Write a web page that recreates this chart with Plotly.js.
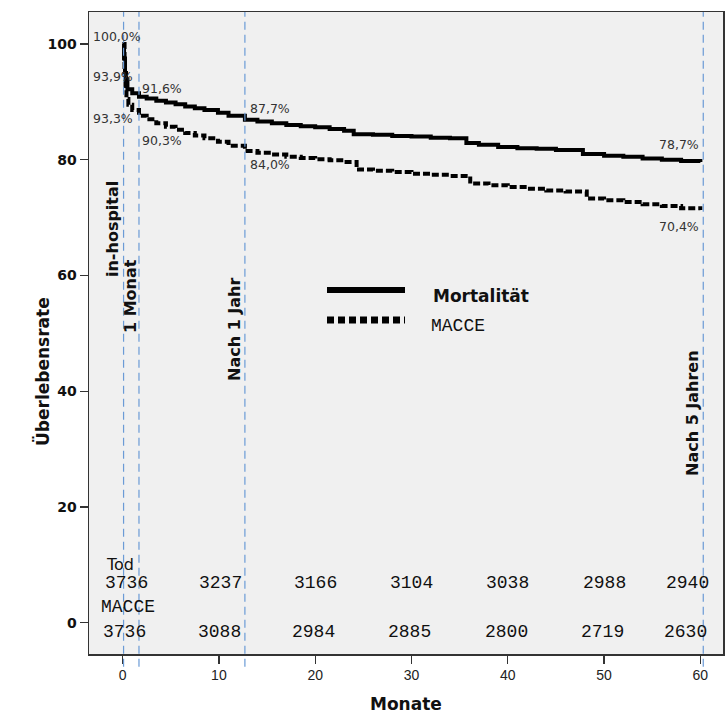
<!DOCTYPE html>
<html>
<head>
<meta charset="utf-8">
<script src="https://cdn.plot.ly/plotly-3.0.1.min.js"></script>
<style>html,body{margin:0;padding:0;background:#fff}#chart{width:725px;height:722px}</style>
</head>
<body>
<div id="chart"></div>
<script>
// ---- data ----
const mortMonths = [0, 0.15, 0.25, 0.35, 0.5, 1, 1.7, 2.5, 3.5, 4.5, 5.5, 6.5, 7.5, 8.5, 9.9, 11, 12.7, 14, 15.5, 17, 18.5, 20, 21.5, 23, 24, 26, 28, 30, 32, 34, 35.7, 37, 39, 41, 43, 45, 47.8, 50, 52, 54, 56, 58, 60];
const mortValues = [100, 97.5, 95, 93.9, 92.2, 91.5, 90.9, 90.6, 90.2, 89.9, 89.6, 89.2, 88.9, 88.6, 88.1, 87.6, 86.9, 86.6, 86.3, 86.0, 85.8, 85.6, 85.3, 85.0, 84.4, 84.3, 84.1, 84.0, 83.8, 83.7, 82.9, 82.6, 82.2, 82.0, 81.9, 81.7, 81.0, 80.7, 80.5, 80.2, 80.0, 79.8, 79.6];
const macceMonths = [0, 0.2, 0.3, 0.4, 0.6, 1, 1.7, 2.5, 3.5, 4.5, 5.5, 6.5, 7.5, 8.5, 9.9, 11, 12.7, 14, 15.5, 17, 18.5, 20, 21.5, 23, 24.3, 26, 28, 30, 32, 34, 36.1, 38, 40, 42, 44, 46, 48.2, 50, 52, 54, 56, 58, 60];
const macceValues = [100, 95, 92, 90.5, 89.5, 88.6, 87.6, 87.0, 86.3, 85.7, 85.2, 84.6, 84.2, 83.7, 83.1, 82.4, 81.5, 81.2, 80.9, 80.5, 80.3, 80.1, 79.9, 79.6, 78.3, 78.1, 77.9, 77.6, 77.4, 77.2, 75.9, 75.6, 75.3, 75.0, 74.7, 74.5, 73.3, 73.0, 72.7, 72.3, 72.0, 71.6, 71.3];

const milestoneMonths = [0.1, 1.7, 12.7, 60.3];
const milestoneLabels = ["in-hospital", "1 Monat", "Nach 1 Jahr", "Nach 5 Jahren"];

const riskMonths = [0, 10, 20, 30, 40, 50, 60];
const riskTod = ["3736", "3237", "3166", "3104", "3038", "2988", "2940"];
const riskMacce = ["3736", "3088", "2984", "2885", "2800", "2719", "2630"];

const pctMort = ["100,0%", "93,9%", "91,6%", "87,7%", "78,7%"];
const pctMacce = ["93,3%", "90,3%", "84,0%", "70,4%"];

const xTicks = [0, 10, 20, 30, 40, 50, 60];
const yTicks = [0, 20, 40, 60, 80, 100];

// ---- layout helpers (pixel -> paper) ----
const L = 89, R = 723, T = 12, B = 654;
const px = x => (x - L) / (R - L);
const py = y => (B - y) / (B - T);

const traces = [
  {x: mortMonths, y: mortValues, mode: 'lines', line: {shape: 'hv', color: '#000', width: 4}, name: 'Mortalität', hoverinfo: 'x+y'},
  {x: macceMonths, y: macceValues, mode: 'lines', line: {shape: 'hv', color: '#000', width: 4, dash: '7px,3px'}, name: 'MACCE', hoverinfo: 'x+y'}
];

const shapes = [];
milestoneMonths.forEach(m => shapes.push({type: 'line', xref: 'x', yref: 'paper', x0: m, x1: m, y0: -0.02, y1: 1, line: {color: '#6b9bd6', width: 1.2, dash: '8px,5px'}, layer: 'above'}));
// legend samples
shapes.push({type: 'line', xref: 'paper', yref: 'paper', x0: px(327), x1: px(405), y0: py(290), y1: py(290), line: {color: '#000', width: 6}});
shapes.push({type: 'line', xref: 'paper', yref: 'paper', x0: px(327), x1: px(405), y0: py(320), y1: py(320), line: {color: '#000', width: 7, dash: '7px,4px'}});

const ann = [];
const pctFont = {family: 'DejaVu Sans', size: 12.5, color: '#333'};
const pctPos = [[91, 36, 'left'], [91, 77, 'left'], [140, 88, 'left'], [248, 108, 'left'], [701, 145, 'right']];
pctMort.forEach((t, i) => ann.push({text: t, xref: 'paper', yref: 'paper', x: px(pctPos[i][0]), y: py(pctPos[i][1]), xanchor: pctPos[i][2], yanchor: 'middle', showarrow: false, font: pctFont}));
const pctPos2 = [[91, 118, 'left'], [140, 140, 'left'], [248, 165, 'left'], [701, 226, 'right']];
pctMacce.forEach((t, i) => ann.push({text: t, xref: 'paper', yref: 'paper', x: px(pctPos2[i][0]), y: py(pctPos2[i][1]), xanchor: pctPos2[i][2], yanchor: 'middle', showarrow: false, font: pctFont}));

// milestone vertical labels
const msPos = [[112, 229], [130, 296], [234, 330], [692, 413]];
milestoneLabels.forEach((t, i) => ann.push({text: t, xref: 'paper', yref: 'paper', x: px(msPos[i][0]), y: py(msPos[i][1]), xanchor: 'center', yanchor: 'middle', textangle: -90, showarrow: false, font: {family: 'DejaVu Sans', size: 16, color: '#111', weight: 'bold'}}));

// at-risk table
const monoFont = {family: 'Liberation Mono, Courier New, monospace', size: 18, color: '#111'};
const shifts = [3.5, 2, 0, 0, 0, 0, -13];
riskMonths.forEach((m, i) => {
  ann.push({text: riskTod[i], xref: 'x', yref: 'paper', x: m, xshift: shifts[i], y: py(583), xanchor: 'center', yanchor: 'middle', showarrow: false, font: monoFont});
  ann.push({text: riskMacce[i], xref: 'x', yref: 'paper', x: m, xshift: shifts[i] - 1.5, y: py(632), xanchor: 'center', yanchor: 'middle', showarrow: false, font: monoFont});
});
ann.push({text: 'Tod', xref: 'paper', yref: 'paper', x: px(104), y: py(564), xanchor: 'left', yanchor: 'middle', showarrow: false, font: {family: 'DejaVu Sans', size: 16, color: '#111'}});
ann.push({text: 'MACCE', xref: 'paper', yref: 'paper', x: px(99), y: py(607), xanchor: 'left', yanchor: 'middle', showarrow: false, font: monoFont});

// legend texts
ann.push({text: 'Mortalität', xref: 'paper', yref: 'paper', x: px(431), y: py(296), xanchor: 'left', yanchor: 'middle', showarrow: false, font: {family: 'DejaVu Sans', size: 17, color: '#111', weight: 'bold'}});
ann.push({text: 'MACCE', xref: 'paper', yref: 'paper', x: px(429), y: py(326), xanchor: 'left', yanchor: 'middle', showarrow: false, font: monoFont});

// axis titles
ann.push({text: 'Überlebensrate', xref: 'paper', yref: 'paper', x: px(42), y: py(372), xanchor: 'center', yanchor: 'middle', textangle: -90, showarrow: false, font: {family: 'DejaVu Sans', size: 17, color: '#111', weight: 'bold'}});
ann.push({text: 'Monate', xref: 'paper', yref: 'paper', x: px(406), y: py(704), xanchor: 'center', yanchor: 'middle', showarrow: false, font: {family: 'DejaVu Sans', size: 17, color: '#111', weight: 'bold'}});

const layout = {
  width: 725, height: 722,
  margin: {l: L, r: 725 - R, t: T, b: 722 - B, pad: 0},
  paper_bgcolor: '#ffffff', plot_bgcolor: '#f0f0f0',
  showlegend: false,
  xaxis: {range: [-3.49, 62.35], tickvals: xTicks, ticks: 'outside', ticklen: 8, tickcolor: '#333', tickwidth: 1.2,
          showline: true, linecolor: '#333', linewidth: 1.5, mirror: true, showgrid: false, zeroline: false,
          tickfont: {family: 'Liberation Sans', size: 14, color: '#222'}},
  yaxis: {range: [-5.41, 105.53], tickvals: yTicks, ticks: 'outside', ticklen: 8, tickcolor: '#333', tickwidth: 1.2,
          showline: true, linecolor: '#333', linewidth: 1.5, mirror: true, showgrid: false, zeroline: false,
          tickfont: {family: 'DejaVu Sans', size: 14, color: '#111', weight: 'bold'}},
  shapes: shapes,
  annotations: ann
};

Plotly.newPlot('chart', traces, layout, {displayModeBar: false, staticPlot: true});
</script>
</body>
</html>
